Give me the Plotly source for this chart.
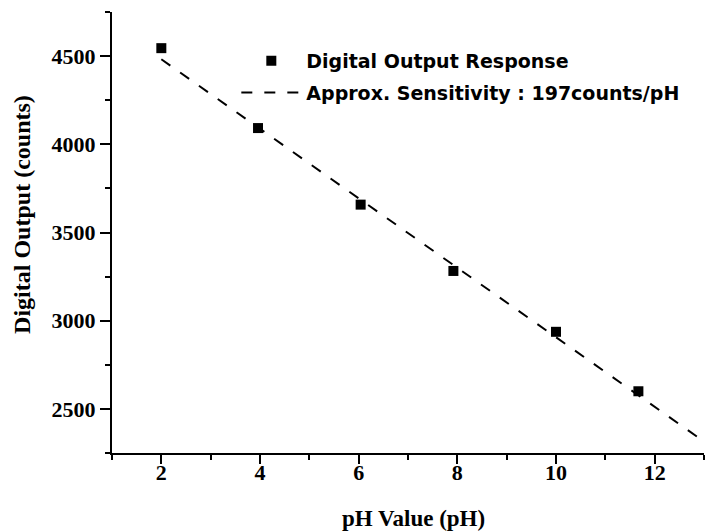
import plotly.graph_objects as go

# Measured data
ph_values = [2.0, 3.96, 6.04, 7.92, 10.0, 11.67]
digital_counts = [4545, 4092, 3658, 3282, 2937, 2600]

# Approximate sensitivity line (endpoints)
fit_ph = [2.0, 13.0]
fit_counts = [4482, 2315]

x_ticks = [2, 4, 6, 8, 10, 12]
y_ticks = [2500, 3000, 3500, 4000, 4500]

serif = "Liberation Serif, Times New Roman, serif"
sans = "DejaVu Sans, Arial, sans-serif"

fig = go.Figure()
fig.add_trace(go.Scatter(
    x=ph_values, y=digital_counts, mode="markers",
    name="Digital Output Response", legendgroup="a",
    marker=dict(symbol="square", size=10, color="black"),
))
fig.add_trace(go.Scatter(
    x=fit_ph, y=fit_counts, mode="lines",
    name="Approx. Sensitivity : 197counts/pH", legendgroup="b",
    line=dict(color="black", width=2, dash="11px,12px"),
))

axis_common = dict(
    showgrid=False, zeroline=False, showline=True, linecolor="black", linewidth=2,
    ticks="outside", tickwidth=2, tickcolor="black", automargin=False,
    tickfont=dict(family=serif, size=22, color="black", weight="bold"),
    mirror=False,
)

fig.update_xaxes(
    range=[1, 13], tickvals=x_ticks, ticklen=9, ticklabelstandoff=-10,
    minor=dict(dtick=1, tick0=1, ticks="outside", ticklen=5, tickwidth=2, tickcolor="black"),
    **axis_common,
)
fig.update_yaxes(
    range=[2250, 4750], tickvals=y_ticks, ticklen=10,
    minor=dict(dtick=250, tick0=2250, ticks="outside", ticklen=5, tickwidth=2, tickcolor="black"),
    **axis_common,
)

fig.add_annotation(
    text="Digital Output (counts)", xref="paper", yref="paper",
    x=-0.152, y=0.54, xanchor="center", yanchor="middle", textangle=-90, showarrow=False,
    font=dict(family=serif, size=24, color="black", weight="bold"),
)
fig.add_annotation(
    text="pH Value (pH)", xref="paper", yref="paper",
    x=0.51, y=-0.148, xanchor="center", yanchor="middle", showarrow=False,
    font=dict(family=serif, size=23, color="black", weight="bold"),
)

fig.update_layout(
    width=707, height=532,
    margin=dict(l=112, r=3, t=12, b=79),
    plot_bgcolor="white", paper_bgcolor="white",
    showlegend=True,
    legend=dict(
        x=0.21, y=0.932, xanchor="left", yanchor="top",
        bgcolor="rgba(0,0,0,0)", borderwidth=0,
        font=dict(family=sans, size=19, color="black", weight="bold"),
        traceorder="grouped", tracegroupgap=4, itemwidth=60,
    ),
)

# remove the page's default body margin so the figure sits at the window's corner
fig.write_html(
    "out.html",
    config={"displayModeBar": False},
    post_script="document.body.style.margin='0px';",
)
